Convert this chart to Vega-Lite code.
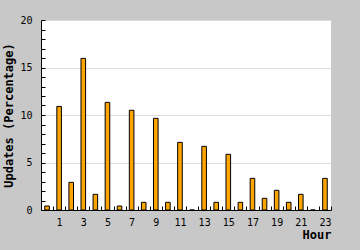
{
  "$schema": "https://vega.github.io/schema/vega-lite/v6.json",
  "width": 290,
  "height": 190,
  "autosize": {"type": "none"},
  "padding": {"left": 41, "top": 20, "right": 29, "bottom": 40},
  "background": "#c8c8c8",
  "config": {
    "view": {"fill": "white", "stroke": null},
    "font": "DejaVu Sans Mono",
    "axis": {
      "labelFont": "DejaVu Sans Mono",
      "labelFontSize": 10,
      "labelColor": "black",
      "titleFont": "DejaVu Sans Mono",
      "titleFontSize": 12,
      "titleFontWeight": "bold",
      "titleColor": "black",
      "domainColor": "black",
      "tickColor": "black"
    }
  },
  "data": {
    "values": [
      {"hour": 0, "pct": 0.42},
      {"hour": 1, "pct": 10.9},
      {"hour": 2, "pct": 2.91},
      {"hour": 3, "pct": 15.96},
      {"hour": 4, "pct": 1.65},
      {"hour": 5, "pct": 11.33},
      {"hour": 6, "pct": 0.42},
      {"hour": 7, "pct": 10.5},
      {"hour": 8, "pct": 0.81},
      {"hour": 9, "pct": 9.65},
      {"hour": 10, "pct": 0.81},
      {"hour": 11, "pct": 7.12},
      {"hour": 12, "pct": 0},
      {"hour": 13, "pct": 6.7},
      {"hour": 14, "pct": 0.81},
      {"hour": 15, "pct": 5.86},
      {"hour": 16, "pct": 0.81},
      {"hour": 17, "pct": 3.33},
      {"hour": 18, "pct": 1.23},
      {"hour": 19, "pct": 2.07},
      {"hour": 20, "pct": 0.81},
      {"hour": 21, "pct": 1.65},
      {"hour": 22, "pct": 0},
      {"hour": 23, "pct": 3.33}
    ]
  },
  "mark": {"type": "bar", "fill": "#ffa500", "stroke": "black", "strokeWidth": 1, "width": {"band": 0.38}},
  "encoding": {
    "x": {
      "field": "hour",
      "type": "ordinal",
      "scale": {"paddingInner": 0, "paddingOuter": 0},
      "axis": {
        "title": "Hour",
        "titleAnchor": "end",
        "titleAlign": "right",
        "titlePadding": 2,
        "labelAngle": 0,
        "labelExpr": "datum.value % 2 == 1 ? datum.label : ''",
        "labelPadding": 11,
        "tickBand": "extent",
        "tickSize": -4,
        "grid": false
      }
    },
    "y": {
      "field": "pct",
      "type": "quantitative",
      "scale": {"domain": [0, 20], "nice": false},
      "axis": {
        "title": "Updates (Percentage)",
        "values": [0,1,2,3,4,5,6,7,8,9,10,11,12,13,14,15,16,17,18,19,20],
        "labelExpr": "datum.value % 5 == 0 ? datum.label : ''",
        "labelPadding": 13,
        "tickSize": -4,
        "grid": true,
        "gridColor": "#dddddd",
        "gridOpacity": {"condition": {"test": "datum.value % 5 == 0 && datum.value > 0", "value": 1}, "value": 0},
        "titlePadding": 4
      }
    }
  }
}
